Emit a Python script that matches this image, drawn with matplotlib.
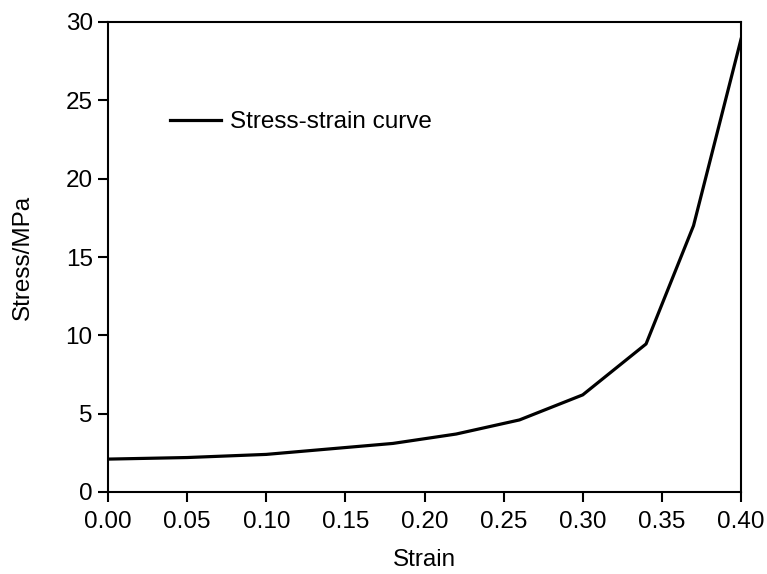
import matplotlib
matplotlib.use('Agg')
import matplotlib.pyplot as plt

strain = [0.00, 0.05, 0.10, 0.14, 0.18, 0.22, 0.26, 0.30, 0.34, 0.37, 0.40]
stress = [2.1, 2.2, 2.4, 2.75, 3.1, 3.7, 4.6, 6.2, 9.45, 17.0, 28.9]
xticks = [0.00, 0.05, 0.10, 0.15, 0.20, 0.25, 0.30, 0.35, 0.40]
yticks = [0, 5, 10, 15, 20, 25, 30]

plt.rcParams['font.family'] = ['Liberation Sans', 'DejaVu Sans']
plt.rcParams['font.size'] = 17.5

fig = plt.figure(figsize=(7.67, 5.74), dpi=100)
ax = fig.add_axes([108 / 767, 1 - 492 / 574, 633 / 767, 470 / 574])

ax.plot(strain, stress, color='black', lw=2.3, label='Stress-strain curve')

ax.set_xlim(0, 0.40)
ax.set_ylim(0, 30)
ax.set_xticks(xticks)
ax.set_xticklabels([f'{v:.2f}' for v in xticks])
ax.set_yticks(yticks)
ax.tick_params(direction='out', length=7, width=1.5, top=False, right=False)
ax.tick_params(axis='x', pad=7)
ax.tick_params(axis='y', pad=4)
for s in ax.spines.values():
    s.set_linewidth(1.5)

ax.set_xlabel('Strain', labelpad=11)
ax.set_ylabel('Stress/MPa', labelpad=23)

ax.legend(loc='center left', bbox_to_anchor=(0.098, 0.787), frameon=False,
          borderpad=0, borderaxespad=0, handlelength=2.1, handletextpad=0.35)

fig.savefig('out.png', dpi=100)
